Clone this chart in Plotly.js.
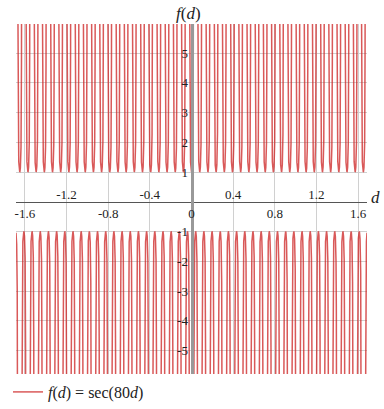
<!DOCTYPE html>
<html>
<head>
<meta charset="utf-8">
<script src="https://cdn.plot.ly/plotly-3.0.1.min.js"></script>
<style>html,body{margin:0;padding:0;background:#fff;}#chart{width:384px;height:409px;}</style>
</head>
<body>
<div id="chart"></div>
<script>
// Function shown in the legend: f(d) = sec(80 d)
const frequency = [80];
const dRange = [-1.685, 1.685];
const fRange = [-5.79, 5.975];
const xTicksAbove = [-1.2, -0.4, 0.4, 1.2];
const xTicksBelow = [-1.6, -0.8, 0, 0.8, 1.6];
const yTicks = [-5, -4, -3, -2, -1, 1, 2, 3, 4, 5];
const yTickLabels = ['-5', '-4', '-3', '-2', '-1', '1', '2', '3', '4', '5'];

const dVals = [];
const fVals = [];
const step = 0.0001;
for (let d = dRange[0]; d <= dRange[1] + 1e-9; d += step) {
  const v = 1 / Math.cos(frequency[0] * d);
  dVals.push(d);
  fVals.push(Math.abs(v) > 7 ? null : v);
}

const serif = 'Liberation Serif, Times New Roman, serif';

const trace = {
  x: dVals, y: fVals, type: 'scatter', mode: 'lines',
  connectgaps: false,
  line: {color: 'rgba(204,34,34,0.75)', width: 1.5},
  name: '<i>f</i>(<i>d</i>) = sec(80<i>d</i>)',
  hoverinfo: 'skip'
};
const ghost = {x: [0], y: [null], xaxis: 'x2', type: 'scatter', mode: 'lines', showlegend: false, hoverinfo: 'skip'};

const zeroFrac = (0 - fRange[0]) / (fRange[1] - fRange[0]);

const commonX = {
  range: dRange, showgrid: true, gridcolor: '#d0d0d0', gridwidth: 1,
  zeroline: false, ticks: '', tickfont: {family: serif, size: 13, color: '#222'},
  anchor: 'free', position: zeroFrac, fixedrange: true, automargin: false
};

const layout = {
  width: 384, height: 409,
  margin: {l: 16, r: 17, t: 24, b: 35, autoexpand: false},
  paper_bgcolor: '#fff', plot_bgcolor: '#fff',
  showlegend: true,
  legend: {xref: 'container', yref: 'container', x: 8 / 384, xanchor: 'left', y: 1 - 392 / 409, yanchor: 'middle',
           font: {family: serif, size: 16, color: '#222'}, bgcolor: 'rgba(0,0,0,0)'},
  xaxis: Object.assign({}, commonX, {
    side: 'bottom', tickmode: 'array', tickvals: xTicksBelow, ticktext: xTicksBelow.map(String),
    showline: true, linecolor: '#555', linewidth: 1
  }),
  xaxis2: Object.assign({}, commonX, {
    side: 'top', overlaying: 'x', tickmode: 'array', tickvals: xTicksAbove, ticktext: xTicksAbove.map(String),
    showline: false, matches: 'x'
  }),
  yaxis: {
    range: fRange, showgrid: true, gridcolor: '#d0d0d0', gridwidth: 1,
    zeroline: false, ticks: '', tickmode: 'array', tickvals: yTicks, ticktext: yTickLabels,
    tickfont: {family: serif, size: 13, color: '#222'},
    anchor: 'free', position: 0.5, side: 'left', automargin: false,
    showline: true, linecolor: '#999', linewidth: 3, fixedrange: true
  },
  annotations: [
    {text: '<i>f</i>(<i>d</i>)', xref: 'paper', yref: 'paper', x: (188 - 16) / 351, y: (374 - 13) / 350,
     showarrow: false, font: {family: serif, size: 17, color: '#222'}, xanchor: 'center', yanchor: 'middle'},
    {text: '<i>d</i>', xref: 'paper', yref: 'paper', x: (376 - 16) / 351, y: (374 - 197) / 350,
     showarrow: false, font: {family: serif, size: 17, color: '#222'}, xanchor: 'center', yanchor: 'middle'}
  ]
};

Plotly.newPlot('chart', [trace, ghost], layout, {staticPlot: true, displayModeBar: false});
</script>
</body>
</html>
